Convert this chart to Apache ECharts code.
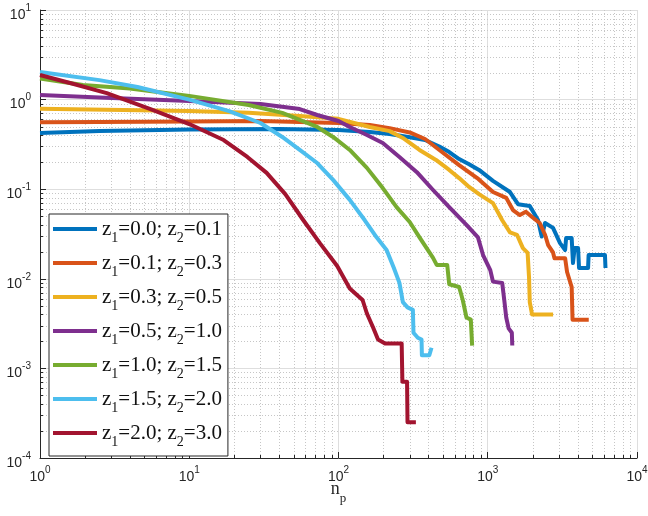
<!DOCTYPE html>
<html>
<head>
<meta charset="utf-8">
<script src="https://cdn.jsdelivr.net/npm/echarts@6/dist/echarts.min.js"></script>
<style>
  html, body {margin:0; padding:0; background:#fff;}
  #chart {width:648px; height:516px;}
</style>
</head>
<body>
<div id="chart"></div>
<script>
// Legend labels
const z1Labels = ['0.0', '0.1', '0.3', '0.5', '1.0', '1.5', '2.0'];
const z2Labels = ['0.1', '0.3', '0.5', '1.0', '1.5', '2.0', '3.0'];
const colors = ['#0072BD', '#D95319', '#EDB120', '#7E2F8E', '#77AC30', '#4DBEEE', '#A2142F'];

// Curves: [n_p, value]
const curveZ00 = [[1,0.424],[2.5,0.446],[10,0.463],[40,0.47],[100,0.458],[162,0.435],[220,0.413],[300,0.38],
  [380,0.354],[474,0.30],[552,0.26],[643,0.217],[750,0.19],[874,0.164],[1084,0.124],[1409,0.093],[1595,0.068],
  [1912,0.065],[2171,0.0453],[2300,0.0297],[2420,0.042],[2737,0.037],[3050,0.025],[3300,0.021],[3350,0.0285],
  [3650,0.0285],[3725,0.015],[3820,0.022],[4030,0.022],[4090,0.0132],[4700,0.0132],[4740,0.0184],[6100,0.0184],
  [6150,0.0132]];
const curveZ01 = [[1,0.56],[2.5,0.563],[10,0.57],[30,0.577],[100,0.548],[162,0.52],[220,0.48],[300,0.43],
  [380,0.363],[474,0.274],[643,0.186],[850,0.133],[1084,0.093],[1330,0.08],[1475,0.0585],[1641,0.0515],
  [1800,0.056],[1980,0.049],[2228,0.042],[2420,0.031],[2540,0.0238],[2737,0.0197],[2800,0.017],[3300,0.017],
  [3400,0.0119],[3650,0.0081],[3700,0.0035],[4750,0.0035]];
const curveZ03 = [[1,0.79],[10,0.745],[25,0.715],[55,0.655],[100,0.61],[162,0.495],[220,0.445],[270,0.373],
  [349,0.274],[450,0.212],[552,0.164],[643,0.133],[750,0.106],[874,0.088],[1084,0.070],[1250,0.045],
  [1409,0.033],[1570,0.031],[1720,0.022],[1850,0.0195],[1890,0.0105],[1912,0.0055],[1980,0.0040],[2740,0.0040]];
const curveZ05 = [[1,1.125],[2.5,1.055],[10,0.965],[30,0.893],[55,0.785],[72,0.673],[100,0.577],[119,0.495],
  [155,0.403],[198,0.328],[256,0.229],[335,0.155],[430,0.098],[552,0.063],[720,0.040],[860,0.029],[930,0.0184],
  [1040,0.0125],[1084,0.0093],[1250,0.009],[1290,0.0058],[1330,0.0037],[1380,0.0028],[1450,0.0025],[1460,0.0018]];
const curveZ10 = [[1,1.72],[1.94,1.455],[4,1.33],[10,1.10],[25,0.87],[42,0.71],[72,0.495],[92,0.383],
  [119,0.274],[155,0.173],[198,0.103],[245,0.063],[300,0.043],[349,0.029],[430,0.0171],[455,0.0143],
  [535,0.0143],[552,0.0087],[643,0.0081],[680,0.0058],[720,0.0037],[770,0.0035],[786,0.0018]];
const curveZ15 = [[1,2.03],[2.5,1.65],[4.5,1.38],[10,1.0],[18.5,0.745],[30,0.548],[42,0.383],[55,0.274],
  [72,0.196],[92,0.127],[119,0.076],[150,0.045],[180,0.029],[210,0.021],[235,0.0132],[256,0.009],[270,0.0055],
  [290,0.0048],[315,0.0045],[318,0.0025],[340,0.0022],[360,0.0021],[362,0.0014],[406,0.0014],[420,0.0017]];
const curveZ20 = [[1,1.88],[1.59,1.53],[2.8,1.18],[5.5,0.785],[10,0.534],[17,0.354],[24.5,0.229],[33,0.152],
  [44,0.088],[58,0.0453],[75,0.025],[98,0.0139],[119,0.0078],[133,0.0066],[145,0.0058],[155,0.0041],
  [170,0.0029],[184,0.0021],[205,0.0019],[265,0.0019],[268,0.00071],[288,0.00071],[290,0.00025],[330,0.00025]];
const curves = [curveZ00, curveZ01, curveZ03, curveZ05, curveZ10, curveZ15, curveZ20];

// Minor tick positions
const xMinorTicks = [2,3,4,5,6,7,8,9, 20,30,40,50,60,70,80,90, 200,300,400,500,600,700,800,900,
  2000,3000,4000,5000,6000,7000,8000,9000];
const yMinorTicks = [2e-4,3e-4,4e-4,5e-4,6e-4,7e-4,8e-4,9e-4, 2e-3,3e-3,4e-3,5e-3,6e-3,7e-3,8e-3,9e-3,
  0.02,0.03,0.04,0.05,0.06,0.07,0.08,0.09, 0.2,0.3,0.4,0.5,0.6,0.7,0.8,0.9, 2,3,4,5,6,7,8,9];

const names = z1Labels.map((z, i) => 'z1=' + z + '; z2=' + z2Labels[i]);
const axisColor = '#262626';
const sans = 'Liberation Sans';
const serif = 'Liberation Serif';

function expLabel(v) {
    return '{b|10}{e|' + Math.round(Math.log10(v)) + '}';
}
const tickRich = {
    b: {fontFamily: sans, fontSize: 14, lineHeight: 14, color: axisColor, verticalAlign: 'top', padding: [5, 0, 0, 0]},
    e: {fontFamily: sans, fontSize: 10, lineHeight: 10, color: axisColor, verticalAlign: 'top'}
};

function crisp(v) {return Math.round(v) + 0.5;}

function renderMinorX(params, api) {
    let cs = params.coordSys;
    let x = crisp(api.coord([api.value(0), 1])[0]);
    let bottom = cs.y + cs.height;
    return {type: 'group', children: [
        {type: 'line', shape: {x1: x, y1: cs.y, x2: x, y2: bottom},
         style: {stroke: '#c6c6c6', lineWidth: 1, lineDash: [1, 2]}},
        {type: 'line', shape: {x1: x, y1: bottom, x2: x, y2: bottom - 3},
         style: {stroke: axisColor, lineWidth: 1}}
    ]};
}
function renderMinorY(params, api) {
    let cs = params.coordSys;
    let y = crisp(api.coord([1, api.value(0)])[1]);
    return {type: 'group', children: [
        {type: 'line', shape: {x1: cs.x, y1: y, x2: cs.x + cs.width, y2: y},
         style: {stroke: '#c6c6c6', lineWidth: 1, lineDash: [1, 2]}},
        {type: 'line', shape: {x1: cs.x, y1: y, x2: cs.x + 3, y2: y},
         style: {stroke: axisColor, lineWidth: 1}}
    ]};
}

let series = [
    {type: 'custom', silent: true, z: 1, renderItem: renderMinorX, data: xMinorTicks.map(v => [v])},
    {type: 'custom', silent: true, z: 1, renderItem: renderMinorY, data: yMinorTicks.map(v => [v])}
];
curves.forEach((c, i) => {
    series.push({
        type: 'line',
        name: names[i],
        data: c,
        symbol: 'none',
        showSymbol: false,
        color: colors[i],
        lineStyle: {width: 4, color: colors[i], join: 'round'},
        z: 2
    });
});

let chart = echarts.init(document.getElementById('chart'), null, {renderer: 'canvas'});
chart.setOption({
    animation: false,
    backgroundColor: '#fff',
    grid: {left: 40, right: 11, top: 10, bottom: 58, containLabel: false, outerBoundsMode: 'none'},
    xAxis: {
        type: 'log', logBase: 10, min: 1, max: 10000, splitNumber: 4,
        name: '{n|n}{p|p}', nameLocation: 'middle', nameGap: 22, nameMoveOverlap: false,
        nameTextStyle: {rich: {
            n: {fontFamily: serif, fontSize: 18, lineHeight: 18, color: axisColor, verticalAlign: 'top'},
            p: {fontFamily: serif, fontSize: 13, lineHeight: 13, color: axisColor, verticalAlign: 'top', padding: [12, 0, 0, 0]}
        }},
        axisLine: {show: true, lineStyle: {color: axisColor, width: 1}},
        axisTick: {show: true, inside: true, length: 6, lineStyle: {color: axisColor}},
        axisLabel: {margin: 7, formatter: expLabel, rich: tickRich},
        splitLine: {show: true, lineStyle: {color: '#dedede', width: 1}},
        minorTick: {show: false}, minorSplitLine: {show: false}
    },
    yAxis: {
        type: 'log', logBase: 10, min: 1e-4, max: 10, splitNumber: 5,
        axisLine: {show: true, lineStyle: {color: axisColor, width: 1}},
        axisTick: {show: true, inside: true, length: 6, lineStyle: {color: axisColor}},
        axisLabel: {margin: 9, formatter: expLabel, rich: tickRich},
        splitLine: {show: true, lineStyle: {color: '#dedede', width: 1}},
        minorTick: {show: false}, minorSplitLine: {show: false}
    },
    legend: {
        data: names,
        orient: 'vertical',
        left: 49, top: 214,
        padding: [5, 6, 4, 4],
        itemGap: 5,
        icon: 'rect',
        itemWidth: 44,
        itemHeight: 4,
        backgroundColor: '#fff',
        borderColor: axisColor,
        borderWidth: 1,
        borderRadius: 0,
        selectedMode: false,
        formatter: name => {
            let i = names.indexOf(name);
            return '{m|z}{s|1}{m|=' + z1Labels[i] + '; z}{s|2}{m|=' + z2Labels[i] + '}';
        },
        textStyle: {rich: {
            m: {fontFamily: serif, fontSize: 21, lineHeight: 20, color: '#111', verticalAlign: 'top'},
            s: {fontFamily: serif, fontSize: 14, lineHeight: 13, color: '#111', verticalAlign: 'top', padding: [12, 0, 3, 0]}
        }}
    },
    series: series
});
</script>
</body>
</html>
